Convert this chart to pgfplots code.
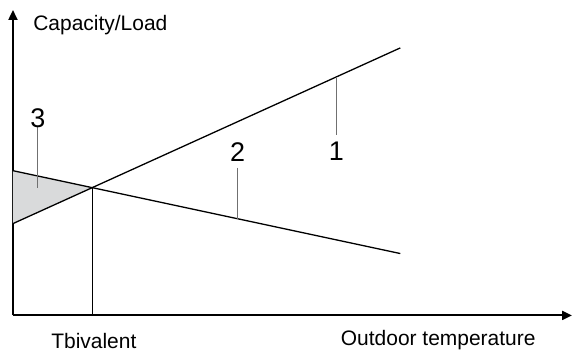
\documentclass[border=0pt]{standalone}
\usepackage{pgfplots}
\pgfplotsset{compat=1.18}
\usetikzlibrary{arrows.meta}
\usepackage{fontspec}
\setmainfont{Liberation Sans}
\definecolor{shade}{HTML}{D9DADB}
\definecolor{leader}{HTML}{707070}
\begin{document}
\fontsize{10.5}{12}\selectfont
\begin{tikzpicture}
\begin{axis}[
  scale only axis, width=280pt, height=153pt,
  xmin=0, xmax=560, ymin=0, ymax=306,
  axis lines=left,
  axis line style={line width=1pt, -{Triangle[length=5pt,width=4.5pt]}},
  xtick=\empty, ytick=\empty,
  clip=false,
]
% region 3 (shortfall below the bivalent point)
\addplot[fill=shade, draw=none] coordinates {(0,92) (0,145) (80,128)} -- cycle;
% 1: heat pump capacity, 2: building load
\addplot[black, line width=0.65pt] coordinates {(0,92) (388,268)};
\addplot[black, line width=0.65pt] coordinates {(0,145) (388,62)};
% bivalent point
\addplot[black, line width=0.65pt] coordinates {(80,0) (80,128)};
% leaders
\addplot[leader, line width=0.5pt] coordinates {(324,239) (324,181)};
\addplot[leader, line width=0.5pt] coordinates {(225,148) (225,97)};
\addplot[leader, line width=0.5pt] coordinates {(25,189) (25,128)};
\node[font=\fontsize{13.5}{15}\selectfont] at (axis cs:324,164) {1};
\node[font=\fontsize{13.5}{15}\selectfont] at (axis cs:225,164) {2};
\node[font=\fontsize{13.5}{15}\selectfont] at (axis cs:25,198) {3};
\node[anchor=west, inner sep=0pt] at (axis cs:20,291) {Capacity/Load};
\node at (axis cs:81,-26) {Tbivalent};
\node at (axis cs:426,-25) {Outdoor temperature};
\path (axis cs:-13,-36) rectangle (axis cs:560,316);
\end{axis}
\end{tikzpicture}
\end{document}
